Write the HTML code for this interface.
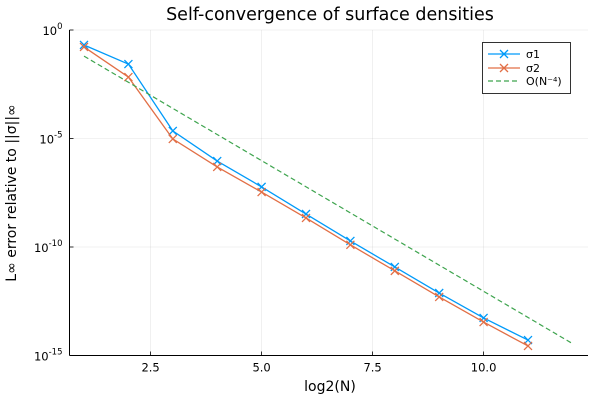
<!DOCTYPE html>
<html><head><meta charset="utf-8"><style>
body{margin:0;background:#fff;}
svg{font-family:"DejaVu Sans","Liberation Sans",sans-serif;}
</style></head><body>
<svg id="chart" width="600" height="400">
<text x="330" y="20" font-size="17.5" text-anchor="middle">Self-convergence of surface densities</text>
<text x="330" y="391" font-size="14" text-anchor="middle">log2(N)</text>
<text transform="translate(16,193) rotate(-90)" font-size="14" text-anchor="middle">L∞ error relative to ||σ||∞</text>
<g id="grid"></g><g id="axes"></g><g id="series"></g>
<g>
<rect x="482.5" y="42.5" width="88" height="51" fill="#fff" stroke="#000" stroke-width="0.8"/>
<line x1="488" y1="54" x2="520" y2="54" stroke="#009af9" stroke-width="1.3"/>
<path d="M500 50l8 8M500 58l8-8" stroke="#009af9" stroke-width="1.3"/>
<text x="526" y="58" font-size="11">σ1</text>
<line x1="488" y1="68" x2="520" y2="68" stroke="#e26f46" stroke-width="1.3"/>
<path d="M500 64l8 8M500 72l8-8" stroke="#e26f46" stroke-width="1.3"/>
<text x="526" y="72" font-size="11">σ2</text>
<line x1="488" y1="81" x2="520" y2="81" stroke="#3ea44e" stroke-width="1.3" stroke-dasharray="5,3"/>
<text x="526" y="85" font-size="11">O(N⁻⁴)</text>
</g>
</svg>
<script>
const xs = [1,2,3,4,5,6,7,8,9,10,11];
const sigma1Log = [-0.69,-1.57,-4.65,-6.04,-7.23,-8.48,-9.72,-10.92,-12.12,-13.27,-14.29];
const sigma2Log = [-0.78,-2.17,-5.02,-6.31,-7.47,-8.66,-9.9,-11.1,-12.3,-13.46,-14.56];
const refX = [1,12];
const xTicks = [2.5,5.0,7.5,10.0];
const xTickLabels = ["2.5","5.0","7.5","10.0"];
const yTicks = [0,-5,-10,-15];
const yTickLabels = ["0","-5","-10","-15"];

const NS='http://www.w3.org/2000/svg';
const X0=69.5,X1=588,Y0=30,Y1=355.5;
function sx(v){return 150.6+(v-2.5)*44.4;}
function sy(l){return Y0+(0-l)*(Y1-Y0)/15;}
function mk(tag,at,parent){const e=document.createElementNS(NS,tag);for(const k in at)e.setAttribute(k,at[k]);parent.appendChild(e);return e;}
const grid=document.getElementById('grid'),axes=document.getElementById('axes'),ser=document.getElementById('series');
xTicks.forEach((t,i)=>{
  const g=mk('line',{x1:sx(t),x2:sx(t),y1:Y0,y2:Y1,stroke:'#000','stroke-opacity':0.1,'stroke-width':0.6},grid);
  
  
  mk('line',{x1:sx(t),x2:sx(t),y1:Y1,y2:Y1-4,stroke:'#000','stroke-width':0.8},axes);
  const tx=mk('text',{x:sx(t),y:Y1+16,'font-size':11.5,'text-anchor':'middle'},axes);
  tx.textContent=xTickLabels[i];
  
  
});
yTicks.forEach((t,i)=>{
  const g=mk('line',{x1:X0,x2:X1,y1:sy(t),y2:sy(t),stroke:'#000','stroke-opacity':0.1,'stroke-width':0.6},grid);
  
  
  mk('line',{x1:X0,x2:X0+4,y1:sy(t),y2:sy(t),stroke:'#000','stroke-width':0.8},axes);
  const tx=mk('text',{x:X0-7,y:sy(t)+5,'font-size':11.5,'text-anchor':'end'},axes);
  
  
  const b=document.createElementNS(NS,'tspan');b.textContent='10';tx.appendChild(b);
  const s=document.createElementNS(NS,'tspan');s.setAttribute('dy','-6');s.setAttribute('font-size','8.5');s.textContent=yTickLabels[i];tx.appendChild(s);
});
mk('line',{x1:X0,x2:X0,y1:Y0,y2:Y1,stroke:'#000','stroke-width':1},axes);
mk('line',{x1:X0,x2:X1,y1:Y1,y2:Y1,stroke:'#000','stroke-width':1},axes);
function series(vals,color,name){
  const p=mk('polyline',{points:xs.map((x,i)=>sx(x)+','+sy(vals[i])).join(' '),fill:'none',stroke:color,'stroke-width':1.3},ser);
  
  
  xs.forEach((x,i)=>{
    const cx=sx(x),cy=sy(vals[i]);
    const m=mk('path',{d:`M${cx-4} ${cy-4}l8 8M${cx-4} ${cy+4}l8-8`,stroke:color,'stroke-width':1.3},ser);
    
    
  });
}
series(sigma1Log,'#009af9','sigma1');
series(sigma2Log,'#e26f46','sigma2');
const r=mk('polyline',{points:refX.map(x=>sx(x)+','+sy(-4*x*Math.log10(2))).join(' '),fill:'none',stroke:'#3ea44e','stroke-width':1.2,'stroke-dasharray':'5,3'},ser);


</script>
</body></html>
